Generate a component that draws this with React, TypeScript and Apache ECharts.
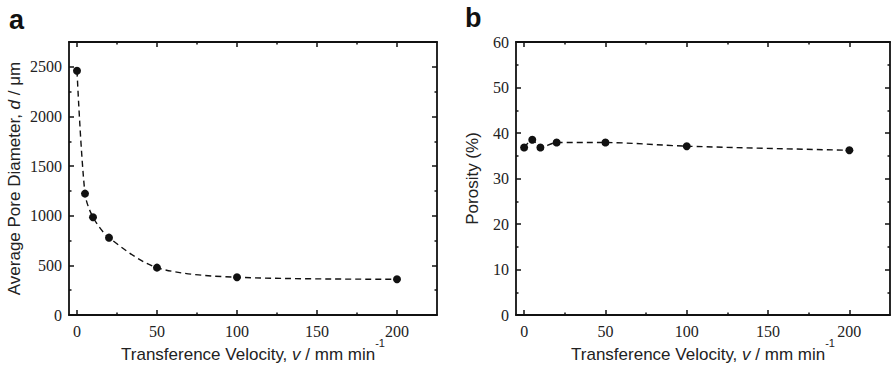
import React, { useEffect, useRef } from "react";
import * as echarts from "echarts";

const velocityA = [0, 5, 10, 20, 50, 100, 200];
const poreDiameter = [2460, 1223, 985, 779, 477, 380, 360];
const velocityB = [0, 5, 10, 20, 50, 100, 200];
const porosity = [36.8, 38.5, 36.8, 37.9, 37.9, 37.1, 36.2];

const xMajorTicks = [0, 50, 100, 150, 200];
const xMinorTicks = [25, 75, 125, 175];
const yMajorTicksA = [0, 500, 1000, 1500, 2000, 2500];
const yMinorTicksA = [250, 750, 1250, 1750, 2250];
const yMajorTicksB = [0, 10, 20, 30, 40, 50, 60];
const yMinorTicksB = [5, 15, 25, 35, 45, 55];

const SERIF = "'Liberation Serif', 'DejaVu Serif', serif";
const SANS = "'Liberation Sans', Arial, sans-serif";
const BLACK = "#111";

function axisSet(
  dim: "x" | "y",
  gridIndex: number,
  min: number,
  max: number,
  majors: number[],
  minors: number[],
  nameCfg: any
) {
  const posA = dim === "x" ? "bottom" : "left";
  const posB = dim === "x" ? "top" : "right";
  const base = {
    type: "value",
    gridIndex,
    min,
    max,
    splitLine: { show: false },
  };
  const main = {
    ...base,
    position: posA,
    axisLine: { show: true, onZero: false, lineStyle: { color: BLACK, width: 1.8 } },
    axisTick: { show: true, inside: true, length: 5, customValues: majors, lineStyle: { color: BLACK, width: 1.5 } },
    axisLabel: {
      show: true,
      customValues: majors,
      formatter: (v: number) => String(v),
      fontFamily: SERIF,
      fontSize: 16,
      color: "#222",
      margin: dim === "x" ? 8 : 7,
    },
    nameMoveOverlap: false,
    ...nameCfg,
  };
  const mainMinor = {
    ...base,
    position: posA,
    axisLine: { show: false, onZero: false },
    axisTick: { show: true, inside: true, length: 2.5, customValues: minors, lineStyle: { color: BLACK, width: 1.5 } },
    axisLabel: { show: false },
  };
  const opp = {
    ...base,
    position: posB,
    axisLine: { show: true, onZero: false, lineStyle: { color: BLACK, width: 1.8 } },
    axisTick: { show: true, inside: true, length: 5, customValues: majors, lineStyle: { color: BLACK, width: 1.5 } },
    axisLabel: { show: false },
  };
  const oppMinor = {
    ...base,
    position: posB,
    axisLine: { show: false, onZero: false },
    axisTick: { show: true, inside: true, length: 2.5, customValues: minors, lineStyle: { color: BLACK, width: 1.5 } },
    axisLabel: { show: false },
  };
  return [main, mainMinor, opp, oppMinor];
}

const titleRich = {
  n: { fontFamily: SANS, fontSize: 17, color: "#222" },
  i: { fontFamily: SANS, fontSize: 17, fontStyle: "italic", color: "#222" },
  s: { fontFamily: SANS, fontSize: 11, color: "#222", verticalAlign: "top", padding: [0, 0, 24, 0] },
};

export default function App() {
  const ref = useRef<HTMLDivElement>(null);
  useEffect(() => {
    document.body.style.margin = "0";
    if (!ref.current) return;
    const chart = echarts.init(ref.current, undefined, { renderer: "svg" });
    const xNameCfg = {
      name: "{n|Transference Velocity, }{i|v}{n| / mm min}{s|-1}",
      nameLocation: "middle",
      nameGap: 22,
      nameTextStyle: { rich: titleRich },
    };
    const xAxes = [
      ...axisSet("x", 0, -5, 225, xMajorTicks, xMinorTicks, xNameCfg),
      ...axisSet("x", 1, -5, 225, xMajorTicks, xMinorTicks, xNameCfg),
    ];
    const yAxes = [
      ...axisSet("y", 0, 0, 2750, yMajorTicksA, yMinorTicksA, {
        name: "{n|Average Pore Diameter, }{i|d}{n| / μm}",
        nameLocation: "middle",
        nameGap: 46,
        nameTextStyle: { rich: titleRich },
      }),
      ...axisSet("y", 1, 0, 60, yMajorTicksB, yMinorTicksB, {
        name: "Porosity (%)",
        nameLocation: "middle",
        nameGap: 35,
        nameTextStyle: { fontFamily: SANS, fontSize: 17, color: "#222" },
      }),
    ];
    const lineStyle = { color: BLACK, width: 1.4, type: [6, 4] as any };
    chart.setOption({
      animation: false,
      backgroundColor: "#fff",
      grid: [
        { left: 69, right: 454, top: 42, bottom: 54, outerBoundsMode: "none", containLabel: false },
        { left: 516, right: 1, top: 42, bottom: 54, outerBoundsMode: "none", containLabel: false },
      ],
      xAxis: xAxes,
      yAxis: yAxes,
      graphic: [
        { type: "text", left: 9, top: 6, style: { text: "a", font: "bold 27px " + SANS, fill: "#111" } },
        { type: "text", left: 465, top: 4, style: { text: "b", font: "bold 27px " + SANS, fill: "#111" } },
      ],
      series: [
        {
          type: "line",
          xAxisIndex: 0,
          yAxisIndex: 0,
          data: velocityA.map((v, i) => [v, poreDiameter[i]]),
          smooth: 0.3,
          symbol: "circle",
          symbolSize: 8,
          itemStyle: { color: BLACK },
          lineStyle,
        },
        {
          type: "line",
          xAxisIndex: 4,
          yAxisIndex: 4,
          data: velocityB.map((v, i) => [v, porosity[i]]),
          smooth: 0.3,
          symbol: "circle",
          symbolSize: 8,
          itemStyle: { color: BLACK },
          lineStyle,
        },
      ],
    });
    return () => chart.dispose();
  }, []);
  return (
    <div
      ref={ref}
      style={{ position: "fixed", left: 0, top: 0, width: 891, height: 369, background: "#fff" }}
    />
  );
}
